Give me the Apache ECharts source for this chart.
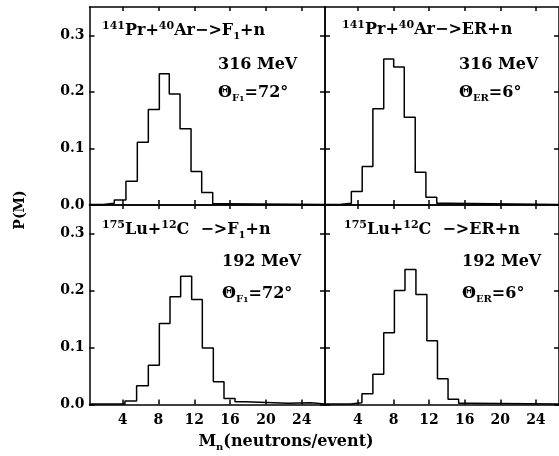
<!DOCTYPE html>
<html>
<head>
<meta charset="utf-8">
<script src="https://cdn.jsdelivr.net/npm/echarts@6/dist/echarts.min.js"></script>
<style>html,body{margin:0;padding:0;background:#fff;}#c{width:559px;height:456px;}</style>
</head>
<body>
<div id="c"></div>
<script>
// ---- data (bin edges and probabilities) ----
const xTicks = [4, 8, 12, 16, 20, 24];
const yTicks = [0, 0.1, 0.2, 0.3];

const p1Edges = [0.3, 1.85, 3.07, 4.37, 5.64, 6.87, 8.10, 9.21, 10.41, 11.64, 12.83, 14.06, 15.3, 26.6];
const p1Values = [0.001, 0.003, 0.009, 0.042, 0.111, 0.169, 0.232, 0.196, 0.135, 0.059, 0.022, 0.002, 0.001];

const p2Edges = [0.3, 1.95, 3.26, 4.48, 5.68, 6.90, 8.02, 9.21, 10.44, 11.64, 12.86, 14.06, 26.6];
const p2Values = [0.001, 0.003, 0.024, 0.068, 0.170, 0.258, 0.244, 0.155, 0.058, 0.0135, 0.003, 0.001];

const p3Edges = [0.3, 4.26, 5.56, 6.87, 8.10, 9.29, 10.48, 11.71, 12.90, 14.13, 15.32, 16.55, 17.67, 22.5, 25.0, 26.6];
const p3Values = [0.001, 0.006, 0.033, 0.069, 0.142, 0.189, 0.225, 0.184, 0.099, 0.040, 0.0106, 0.005, 0.002, 0.003, 0.001];

const p4Edges = [0.3, 3.18, 4.45, 5.68, 6.90, 8.10, 9.29, 10.52, 11.75, 12.94, 14.13, 15.32, 16.5, 26.6];
const p4Values = [0.001, 0.003, 0.019, 0.053, 0.126, 0.200, 0.237, 0.193, 0.112, 0.045, 0.009, 0.002, 0.001];

const panelTitles = [
  '{sup|141}Pr+{sup|40}Ar−>F{sub|1}+n',
  '{sup|141}Pr+{sup|40}Ar−>ER+n',
  '{sup|175}Lu+{sup|12}C  −>F{sub|1}+n',
  '{sup|175}Lu+{sup|12}C  −>ER+n'
];
const energies = ['316 MeV', '316 MeV', '192 MeV', '192 MeV'];
const angles = ['Θ{sub|F}{subsub|1}=72°', 'Θ{sub|ER}=6°', 'Θ{sub|F}{subsub|1}=72°', 'Θ{sub|ER}=6°'];

// ---- build ----
const FONT = 'DejaVu Serif';
const XMIN = 0.3, XMAX = 26.6, YMAX = 0.35;
function hist(edges, vals) {
  const d = vals.map((v, i) => [edges[i], v]);
  d.push([edges[edges.length - 1], vals[vals.length - 1]]);
  return d;
}
const panels = [[p1Edges, p1Values], [p2Edges, p2Values], [p3Edges, p3Values], [p4Edges, p4Values]];
const grids = [
  {left: 89.5, top: 7, width: 235.5, height: 198},
  {left: 325, top: 7, width: 235.5, height: 198},
  {left: 89.5, top: 205, width: 235.5, height: 199.5},
  {left: 325, top: 205, width: 235.5, height: 199.5}
];
const lineStyle = {color: '#000', width: 1.5};
const xAxes = [], yAxes = [], series = [];
grids.forEach((g, i) => {
  const bottomRow = i >= 2, leftCol = i % 2 === 0;
  xAxes.push({
    type: 'value', gridIndex: i, position: 'bottom', min: XMIN, max: XMAX,
    axisLine: {show: true, onZero: false, lineStyle},
    axisTick: {show: true, inside: true, length: 5, customValues: xTicks, lineStyle},
    axisLabel: {show: bottomRow, customValues: xTicks, color: '#000', fontFamily: FONT, fontWeight: 'bold', fontSize: 14, margin: 9},
    splitLine: {show: false}
  });
  xAxes.push({
    type: 'value', gridIndex: i, position: 'top', min: XMIN, max: XMAX,
    axisLine: {show: true, onZero: false, lineStyle},
    axisTick: {show: true, inside: true, length: 4, customValues: xTicks, lineStyle},
    axisLabel: {show: false}, splitLine: {show: false}
  });
  yAxes.push({
    type: 'value', gridIndex: i, position: 'left', min: 0, max: YMAX,
    axisLine: {show: true, onZero: false, lineStyle},
    axisTick: {show: true, inside: true, length: 5, customValues: yTicks, lineStyle},
    axisLabel: {show: leftCol, customValues: yTicks, formatter: v => v.toFixed(1), color: '#000', fontFamily: FONT, fontWeight: 'bold', fontSize: 14, margin: 5},
    splitLine: {show: false}
  });
  yAxes.push({
    type: 'value', gridIndex: i, position: 'right', min: 0, max: YMAX,
    axisLine: {show: true, onZero: false, lineStyle},
    axisTick: {show: true, inside: true, length: 5, customValues: yTicks, lineStyle},
    axisLabel: {show: false}, splitLine: {show: false}
  });
  series.push({
    type: 'line', xAxisIndex: 2 * i, yAxisIndex: 2 * i, step: 'end', symbol: 'none',
    lineStyle: {color: '#000', width: 1.5}, data: hist(panels[i][0], panels[i][1]), silent: true, clip: true
  });
});

const rich = {
  sup: {fontSize: 11, fontFamily: FONT, fontWeight: 'bold', verticalAlign: 'top', lineHeight: 20},
  sub: {fontSize: 10, fontFamily: FONT, fontWeight: 'bold', verticalAlign: 'bottom', lineHeight: 20, padding: [6, 0, 0, 0]},
  subsub: {fontSize: 8, fontFamily: FONT, fontWeight: 'bold', verticalAlign: 'bottom', lineHeight: 20, padding: [10, 0, 0, 0]}
};
function txt(x, y, text, opts) {
  return Object.assign({
    type: 'text', x, y,
    style: Object.assign({text, fill: '#000', fontFamily: FONT, fontWeight: 'bold', fontSize: 16, lineHeight: 20, rich, align: 'left', verticalAlign: 'middle'}, (opts && opts.style) || {})
  }, (opts && opts.el) || {});
}
const titlePos = [[102, 31], [342, 30], [102, 230], [344, 230]];
const energyPos = [[218, 65], [459, 65], [222, 262], [462, 262]];
const anglePos = [[218, 93], [459, 93], [222, 294], [462, 294]];
const graphic = [];
for (let i = 0; i < 4; i++) {
  graphic.push(txt(titlePos[i][0], titlePos[i][1], panelTitles[i]));
  graphic.push(txt(energyPos[i][0], energyPos[i][1], energies[i]));
  graphic.push(txt(anglePos[i][0], anglePos[i][1], angles[i]));
}
graphic.push(txt(286, 442, 'M{sub|n}(neutrons/event)', {style: {align: 'center'}}));
graphic.push(txt(20, 210, 'P(M)', {style: {align: 'center', fontSize: 14}, el: {rotation: Math.PI / 2}}));

const chart = echarts.init(document.getElementById('c'), null, {renderer: 'canvas'});
chart.setOption({
  animation: false,
  backgroundColor: '#fff',
  grid: grids,
  xAxis: xAxes,
  yAxis: yAxes,
  series,
  graphic
});
</script>
</body>
</html>
